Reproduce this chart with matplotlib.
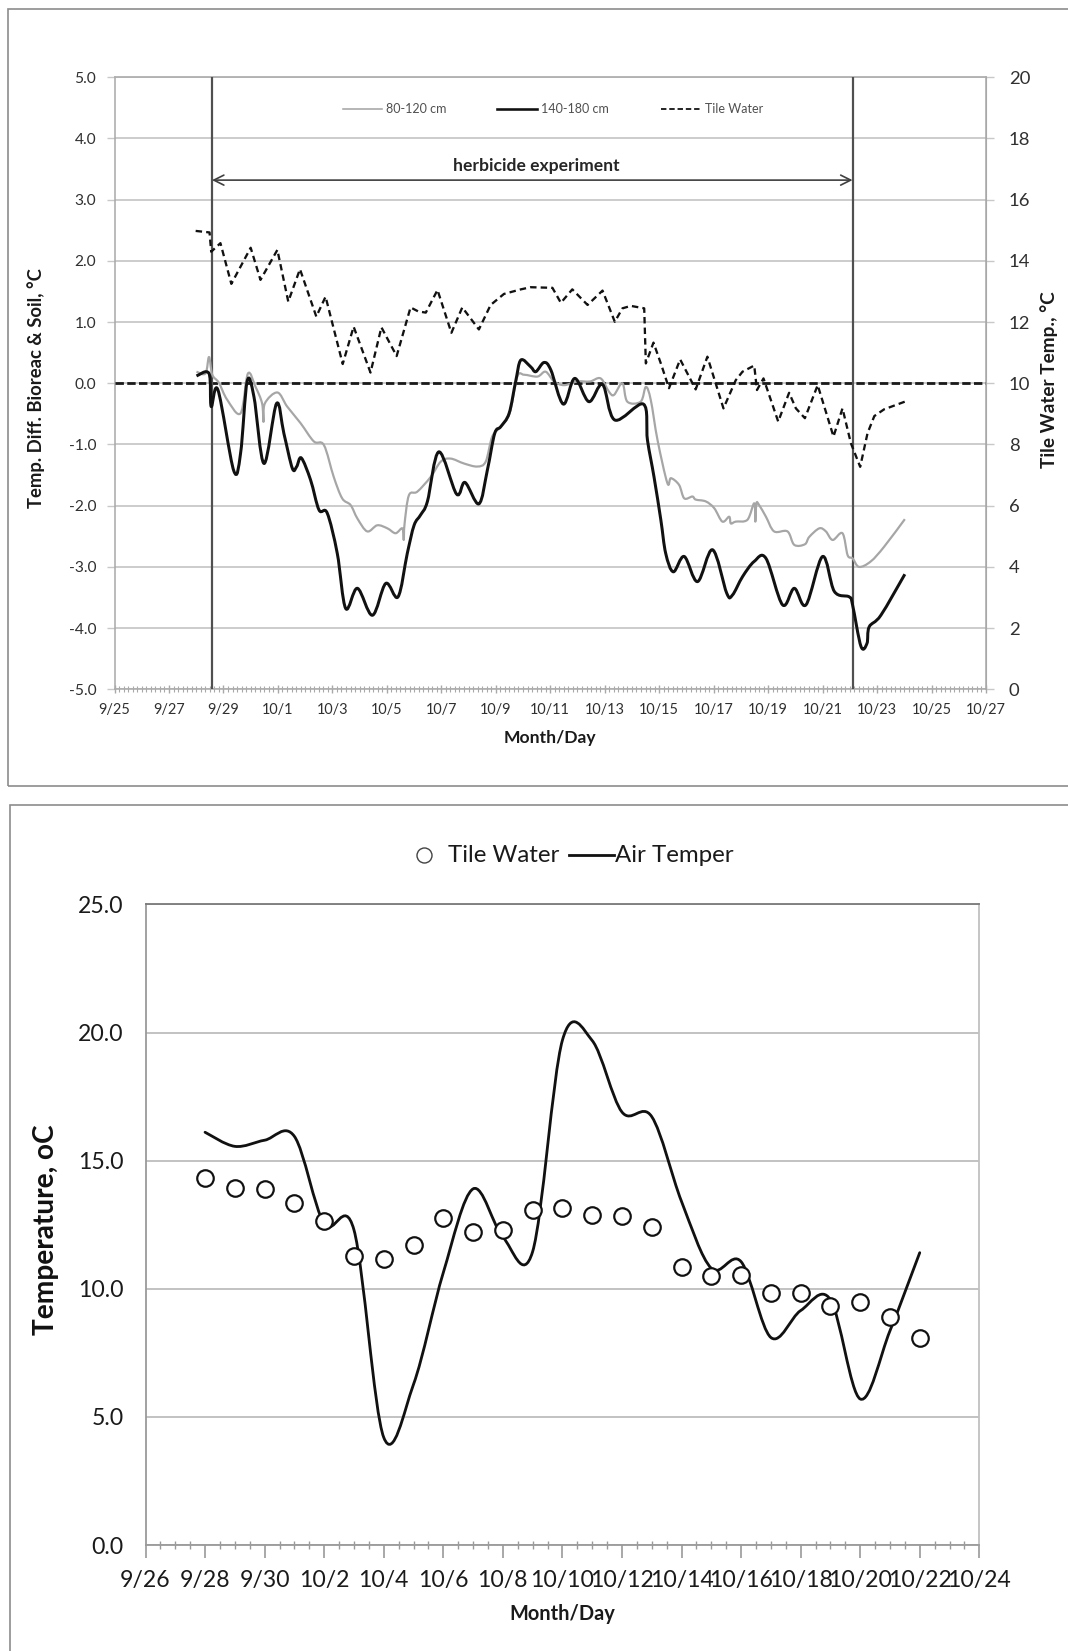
import numpy as np
import matplotlib
matplotlib.use("Agg")
import matplotlib.pyplot as plt
from matplotlib.lines import Line2D
from matplotlib.patches import Rectangle, PathPatch
from matplotlib.path import Path
from matplotlib.ticker import MultipleLocator, FixedLocator

plt.rcParams['font.family'] = ['Lato', 'DejaVu Sans']

# ---------------- upper panel: temperature difference records ----------------
# time in days after 9/25 00:00
t_shallow = [3.01, 3.34, 3.47, 3.59, 3.83, 4.14, 4.63, 4.90, 5.18, 5.42, 5.47, 5.52, 5.98,
             6.34, 6.83, 7.32, 7.69, 8.05, 8.36, 8.67, 8.92, 9.28, 9.65, 10.02, 10.32, 10.57,
             10.62, 10.65, 10.81, 11.12, 11.61, 11.98, 12.34, 12.83, 13.32, 13.63, 13.87,
             14.18, 14.51, 14.79, 15.04, 15.53, 15.83, 16.14, 16.51, 17.00, 17.46, 17.85,
             18.16, 18.34, 18.65, 18.83, 19.32, 19.51, 19.69, 19.94, 20.30, 20.43, 20.73,
             20.92, 21.22, 21.34, 21.71, 22.02, 22.32, 22.57, 22.63, 22.81, 23.24, 23.49,
             23.53, 23.57, 23.67, 23.92, 24.22, 24.71, 24.96, 25.35, 25.51, 25.88, 26.12,
             26.37, 26.73, 26.92, 27.10, 27.34, 27.77, 28.26, 29.02]
v_shallow = [0.19, 0.16, 0.43, 0.14, 0.01, -0.27, -0.49, 0.16, -0.06, -0.33, -0.63, -0.33, -0.15,
             -0.38, -0.65, -0.95, -1.01, -1.53, -1.88, -1.99, -2.21, -2.42, -2.32, -2.37, -2.45,
             -2.37, -2.56, -2.30, -1.83, -1.77, -1.53, -1.28, -1.23, -1.31, -1.36, -1.28, -0.87,
             -0.71, -0.49, 0.11, 0.14, 0.11, 0.19, 0.03, -0.03, 0.03, 0.03, 0.08,
             -0.14, -0.19, 0.00, -0.30, -0.30, -0.06, -0.27, -0.93, -1.63, -1.55, -1.66,
             -1.88, -1.85, -1.90, -1.93, -2.04, -2.26, -2.18, -2.29, -2.26, -2.23, -1.96,
             -2.26, -1.96, -1.99, -2.18, -2.42, -2.42, -2.64, -2.63, -2.51, -2.37, -2.42,
             -2.56, -2.45, -2.81, -2.86, -3.00, -2.91, -2.67, -2.22]

t_deep = [3.01, 3.47, 3.55, 3.80, 4.38, 4.63, 4.87, 5.12, 5.49, 5.95, 6.22, 6.53, 6.69, 6.86,
          7.20, 7.51, 7.81, 8.18, 8.49, 8.92, 9.47, 9.96, 10.41, 10.75, 11.00, 11.24, 11.49,
          11.91, 12.56, 12.87, 13.38, 13.69, 13.96, 14.18, 14.49, 14.73, 14.92, 15.28, 15.47,
          15.77, 16.02, 16.48, 16.90, 17.42, 17.92, 18.37, 19.42, 19.57, 19.81, 20.06, 20.24,
          20.52, 20.92, 21.41, 21.96, 22.48, 22.69, 23.06, 23.49, 23.92, 24.53, 24.96, 25.39,
          26.00, 26.43, 26.98, 27.10, 27.41, 27.63, 27.71, 28.14, 29.02]
v_deep = [0.12, 0.16, -0.38, -0.11, -1.43, -1.14, 0.03, -0.22, -1.31, -0.33, -0.82, -1.39, -1.36,
          -1.22, -1.58, -2.07, -2.12, -2.78, -3.68, -3.35, -3.79, -3.27, -3.49, -2.78, -2.32,
          -2.15, -1.93, -1.12, -1.81, -1.62, -1.97, -1.42, -0.82, -0.71, -0.49, 0.03, 0.38,
          0.27, 0.19, 0.34, 0.22, -0.34, 0.08, -0.30, -0.02, -0.60, -0.34, -0.93, -1.53, -2.23,
          -2.78, -3.08, -2.83, -3.24, -2.72, -3.43, -3.46, -3.16, -2.91, -2.86, -3.62, -3.35,
          -3.62, -2.83, -3.40, -3.49, -3.62, -4.30, -4.25, -3.98, -3.79, -3.12]

# tile water temperature, degC (right axis)
t_tile = [2.98, 3.49, 3.55, 3.89, 4.29, 5.00, 5.36, 5.98, 6.38, 6.81, 7.41, 7.75, 8.38, 8.78,
          9.40, 9.80, 10.36, 10.87, 11.15, 11.43, 11.86, 12.37, 12.77, 13.38, 13.81, 14.30,
          14.92, 15.28, 16.08, 16.39, 16.81, 17.37, 17.92, 18.37, 18.65, 18.96, 19.45, 19.51,
          19.79, 20.06, 20.36, 20.77, 21.34, 21.77, 22.36, 22.81, 23.06, 23.49, 23.59, 23.83,
          24.37, 24.77, 25.02, 25.35, 25.82, 26.40, 26.73, 27.04, 27.38, 27.65, 27.90, 28.26,
          29.02]
v_tile = [14.98, 14.93, 14.30, 14.58, 13.25, 14.43, 13.38, 14.36, 12.67, 13.73, 12.18, 12.83,
          10.63, 11.85, 10.35, 11.83, 10.89, 12.48, 12.35, 12.31, 13.05, 11.65, 12.48, 11.76,
          12.56, 12.92, 13.07, 13.14, 13.12, 12.63, 13.07, 12.56, 13.03, 12.01, 12.45, 12.53,
          12.45, 10.65, 11.33, 10.65, 9.84, 10.78, 9.80, 10.87, 9.18, 10.10, 10.38, 10.58,
          9.78, 10.16, 8.75, 9.69, 9.18, 8.86, 9.94, 8.26, 9.18, 8.04, 7.27, 8.37, 8.93, 9.15,
          9.40]

exp_start, exp_end = 3.58, 27.10
top_labels = ['9/25', '9/27', '9/29', '10/1', '10/3', '10/5', '10/7', '10/9', '10/11',
              '10/13', '10/15', '10/17', '10/19', '10/21', '10/23', '10/25', '10/27']

# ---------------- lower panel: daily tile water and air temperature ----------------
obs_dates = ['9/28', '9/29', '9/30', '10/1', '10/2', '10/3', '10/4', '10/5', '10/6', '10/7',
             '10/8', '10/9', '10/10', '10/11', '10/12', '10/13', '10/14', '10/15', '10/16',
             '10/17', '10/18', '10/19', '10/20', '10/21', '10/22']
tile_daily = [14.34, 13.94, 13.90, 13.33, 12.63, 11.29, 11.15, 11.72, 12.75, 12.20, 12.28,
              13.07, 13.15, 12.89, 12.86, 12.42, 10.87, 10.51, 10.54, 9.84, 9.84, 9.32,
              9.49, 8.89, 8.07]
air_daily = [16.11, 15.56, 15.80, 15.95, 12.54, 12.30, 4.20, 6.27, 10.63, 13.90, 12.02,
             11.45, 19.70, 19.69, 16.90, 16.72, 13.41, 10.80, 11.06, 8.10, 9.15, 9.58,
             5.70, 8.36, 11.41]
bottom_labels = ['9/26', '9/28', '9/30', '10/2', '10/4', '10/6', '10/8', '10/10', '10/12',
                 '10/14', '10/16', '10/18', '10/20', '10/22', '10/24']


def day_offset(label, origin=(9, 26)):
    m, d = (int(s) for s in label.split('/'))
    days = {9: 0, 10: 30}
    return (days[m] + d) - (days[origin[0]] + origin[1])


def smooth_path(x, y):
    """Cubic Bezier path through the points (spreadsheet-style smoothed line)."""
    x = np.asarray(x, float)
    y = np.asarray(y, float)
    n = len(x)
    verts = [(x[0], y[0])]
    codes = [Path.MOVETO]
    for i in range(n - 1):
        a = i - 1 if i > 0 else i
        b = i + 2 if i + 2 < n else i + 1
        c1 = (x[i] + (x[i + 1] - x[a]) / 6, y[i] + (y[i + 1] - y[a]) / 6)
        c2 = (x[i + 1] - (x[b] - x[i]) / 6, y[i + 1] - (y[b] - y[i]) / 6)
        verts += [c1, c2, (x[i + 1], y[i + 1])]
        codes += [Path.CURVE4] * 3
    return Path(verts, codes)


W, H = 1068, 1651
fig = plt.figure(figsize=(W / 100, H / 100), dpi=100)
fig.patch.set_facecolor('white')


def fx(px):
    return px / W


def fy(py):
    return 1 - py / H


def pt(px):
    return px * 0.72


# panel frames
fig.add_artist(Rectangle((fx(8), fy(786)), fx(1100), (786 - 9) / H, transform=fig.transFigure,
                         fill=False, edgecolor='#8c8c8c', linewidth=1.2))
fig.add_artist(Rectangle((fx(10), fy(1700)), fx(1100), (1700 - 805) / H, transform=fig.transFigure,
                         fill=False, edgecolor='#8c8c8c', linewidth=1.2))

GRID = '#c8c8c8'
SPINE = '#a8a8a8'

# ---------------- upper panel ----------------
L, R, T, B = 114.5, 986.0, 77.3, 689.3
ax1 = fig.add_axes([fx(L), fy(B), (R - L) / W, (B - T) / H])
ax1.set_xlim(0, 32)
ax1.set_ylim(-5, 5)
ax1.set_yticks(np.arange(-5, 5.01, 1.0))
ax1.set_yticklabels([f'{v:.1f}' for v in np.arange(-5, 5.01, 1.0)])
ax1.xaxis.set_major_locator(FixedLocator(np.arange(0, 33, 2)))
ax1.set_xticklabels(top_labels)
ax1.xaxis.set_minor_locator(MultipleLocator(1 / 6))
ax1.grid(axis='y', color=GRID, linewidth=1.3)
ax1.set_axisbelow(True)
for side in ['left', 'right', 'bottom']:
    ax1.spines[side].set_color(SPINE)
    ax1.spines[side].set_linewidth(1.1)
ax1.spines['top'].set_color('#b0b0b0')
ax1.spines['top'].set_linewidth(1.3)
ax1.tick_params(axis='y', direction='out', length=6, width=1.0, color=GRID,
                labelsize=pt(15.5), pad=pt(10), labelcolor='#303030')
ax1.tick_params(axis='x', which='major', direction='inout', length=6, width=1.0, color=SPINE,
                labelsize=pt(14.5), pad=pt(10), labelcolor='#303030')
ax1.tick_params(axis='x', which='minor', direction='inout', length=4, width=0.8, color=SPINE)

ax1.axhline(0, color='#1a1a1a', linewidth=pt(2.8), dashes=(3.0, 1.2), zorder=3)
ax1.axvline(exp_start, color='#505050', linewidth=pt(2.2), zorder=4)
ax1.axvline(exp_end, color='#505050', linewidth=pt(2.2), zorder=4)
ax1.add_patch(PathPatch(smooth_path(t_shallow, v_shallow), fill=False, edgecolor='#a6a6a6',
                        linewidth=pt(2.2), zorder=5, joinstyle='round'))
ax1.add_patch(PathPatch(smooth_path(t_deep, v_deep), fill=False, edgecolor='#111111',
                        linewidth=pt(3.0), zorder=6, joinstyle='round'))

ax1.annotate('', xy=(exp_start, 3.32), xytext=(exp_end, 3.32),
             arrowprops=dict(arrowstyle='<->', color='#404040', lw=1.2,
                             shrinkA=0, shrinkB=0, mutation_scale=18))
ax1.text((exp_start + exp_end) / 2 + 0.15, 3.55, 'herbicide experiment', ha='center', va='center',
         fontsize=pt(17.5), fontweight='bold', color='#262626')

ax1r = ax1.twinx()
ax1r.set_ylim(0, 20)
ax1r.set_yticks(np.arange(0, 21, 2))
ax1r.set_yticklabels([str(v) for v in range(0, 21, 2)])
ax1r.plot(t_tile, v_tile, color='#111111', linewidth=pt(2.3), dashes=(2.8, 1.8), zorder=6)
for side in ['left', 'right', 'bottom', 'top']:
    ax1r.spines[side].set_visible(False)
ax1r.spines['right'].set_visible(True)
ax1r.spines['right'].set_color(SPINE)
ax1r.tick_params(axis='y', direction='out', length=6, width=1.0, color=GRID,
                 labelsize=pt(18.5), pad=pt(14.5), labelcolor='#303030')

# upper legend
leg_y = 109.3
for x0, x1, txt, color, lw, dash in [(342.7, 381.7, '80-120 cm', '#a6a6a6', 1.6, None),
                                      (496.7, 536.7, '140-180 cm', '#111111', 2.6, None),
                                      (661.0, 701.0, 'Tile Water', '#111111', 1.8, (3.0, 1.6))]:
    ln = Line2D([fx(x0), fx(x1)], [fy(leg_y), fy(leg_y)], transform=fig.transFigure,
                color=color, linewidth=pt(lw))
    if dash:
        ln.set_dashes(dash)
    fig.add_artist(ln)
    fig.text(fx(x1 + 4), fy(leg_y), txt, ha='left', va='center', fontsize=pt(12.5), color='#505050')

fig.text(fx(36), fy(388), 'Temp. Diff. Bioreac & Soil, \u00b0C', rotation=90, ha='center',
         va='center', fontsize=pt(18.5), fontweight='bold', color='#1a1a1a')
fig.text(fx(1049), fy(380), 'Tile Water Temp., \u00b0C', rotation=90, ha='center',
         va='center', fontsize=pt(19), fontweight='bold', color='#1a1a1a')
fig.text(fx(550), fy(738), 'Month/Day', ha='center', va='center', fontsize=pt(17.5),
         fontweight='bold', color='#1a1a1a')

# ---------------- lower panel ----------------
L2, R2, T2, B2 = 145.5, 979.3, 904.5, 1545.0
ax2 = fig.add_axes([fx(L2), fy(B2), (R2 - L2) / W, (B2 - T2) / H])
ax2.set_xlim(0, 28)
ax2.set_ylim(0, 25)
ax2.set_yticks(np.arange(0, 25.1, 5))
ax2.set_yticklabels([f'{v:.1f}' for v in np.arange(0, 25.1, 5)])
ax2.xaxis.set_major_locator(FixedLocator(np.arange(0, 29, 2)))
ax2.set_xticklabels(bottom_labels)
ax2.xaxis.set_minor_locator(MultipleLocator(0.5))
ax2.grid(axis='y', color='#bdbdbd', linewidth=1.3)
ax2.set_axisbelow(True)
ax2.spines['top'].set_color('#7a7a7a')
ax2.spines['top'].set_linewidth(1.4)
ax2.spines['left'].set_color('#9a9a9a')
ax2.spines['right'].set_color('#c0c0c0')
ax2.spines['bottom'].set_color('#9a9a9a')
for s in ax2.spines.values():
    s.set_linewidth(1.3)
ax2.tick_params(axis='y', length=0, labelsize=pt(23), pad=pt(22), labelcolor='#1a1a1a')
ax2.tick_params(axis='x', which='major', direction='out', length=9, width=1.2, color='#9a9a9a',
                labelsize=pt(23), pad=pt(12), labelcolor='#1a1a1a')
ax2.tick_params(axis='x', which='minor', direction='inout', length=6, width=1.0, color='#9a9a9a')

obs_x = [day_offset(d) for d in obs_dates]
ax2.add_patch(PathPatch(smooth_path(obs_x, air_daily), fill=False, edgecolor='#111111',
                        linewidth=pt(2.8), zorder=4, capstyle='round', joinstyle='round'))
ax2.plot(obs_x, tile_daily, linestyle='none', marker='o', markersize=pt(16.5),
         markerfacecolor='white', markeredgecolor='#111111', markeredgewidth=pt(2.2), zorder=5)

# lower legend
leg2_y = 855
fig.add_artist(Line2D([fx(424)], [fy(leg2_y)], transform=fig.transFigure, linestyle='none',
                      marker='o', markersize=pt(15), markerfacecolor='white',
                      markeredgecolor='#444444', markeredgewidth=pt(1.4)))
fig.text(fx(448), fy(leg2_y), 'Tile Water', ha='left', va='center', fontsize=pt(24),
         color='#1a1a1a')
fig.add_artist(Line2D([fx(569), fx(614)], [fy(leg2_y), fy(leg2_y)], transform=fig.transFigure,
                      color='#111111', linewidth=pt(2.8)))
fig.text(fx(615), fy(leg2_y), 'Air Temper', ha='left', va='center', fontsize=pt(24),
         color='#1a1a1a')

fig.text(fx(46), fy(1230), 'Temperature, oC', rotation=90, ha='center', va='center',
         fontsize=pt(28), fontweight='bold', color='#111111')
fig.text(fx(562), fy(1614), 'Month/Day', ha='center', va='center', fontsize=pt(20),
         fontweight='bold', color='#1a1a1a')

fig.savefig('out.png', dpi=100, facecolor='white')
